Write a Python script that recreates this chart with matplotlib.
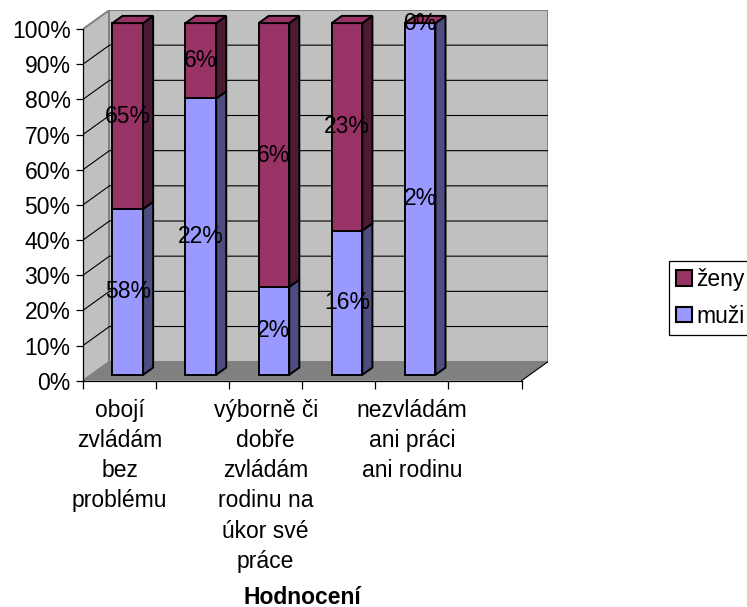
import numpy as np
import matplotlib
matplotlib.use("Agg")
import matplotlib.pyplot as plt
from matplotlib.patches import Polygon, Patch
from matplotlib import transforms

plt.rcParams['font.family'] = ['Liberation Sans', 'DejaVu Sans']

# ---- data ----
categories = ["obojí\nzvládám\nbez\nproblému", "",
              "výborně či\ndobře\nzvládám\nrodinu na\núkor své\npráce", "",
              "nezvládám\nani práci\nani rodinu", ""]
muzi = [58, 22, 2, 16, 2, None]
zeny = [65, 6, 6, 23, 0, None]
series_names = ["muži", "ženy"]
y_ticks = [0, 10, 20, 30, 40, 50, 60, 70, 80, 90, 100]
x_title = "Hodnocení"

# ---- style ----
fs = 16.5
front_cols = {"muži": "#9999FF", "ženy": "#993366"}
side_cols = {"muži": "#4D4D80", "ženy": "#4D1A33"}
top_cols = {"muži": "#9999FF", "ženy": "#993366"}
wall_col = "#C0C0C0"
wall_edge = "#808080"
floor_col = "#808080"

n = len(categories)
DX, DY = 0.362, 0.0541      # depth of the 3-D box (data units)
d0, bd = 0.31, 0.38         # bar front depth and bar depth (fraction of box depth)
bw = 0.42                   # bar width

W, H = 747, 607
fig = plt.figure(figsize=(W / 100, H / 100), dpi=100)
ax = fig.add_axes([83 / W, (H - 380.7) / H, 465 / W, 370.7 / H])
ax.set_xlim(0, n + DX)
ax.set_ylim(0, 1 + DY)
ax.patch.set_visible(False)

# walls
ax.fill([0, 0, DX, DX], [0, 1, 1 + DY, DY], facecolor=wall_col,
        edgecolor=wall_edge, lw=1.4, zorder=0.5)
ax.fill([DX, DX, n + DX, n + DX], [DY, 1 + DY, 1 + DY, DY], facecolor=wall_col,
        edgecolor=wall_edge, lw=1.4, zorder=0.5)
# gridlines
for v in y_ticks[1:-1]:
    f = v / 100
    ax.plot([0, DX, n + DX], [f, f + DY, f + DY], color="black", lw=0.8, zorder=0.6)
# floor
ax.fill([0, n, n + DX, DX], [0, 0, DY, DY], facecolor=floor_col,
        edgecolor="none", zorder=0.7)
ax.plot([n, n + DX], [0, DY], color="black", lw=0.8, zorder=0.8)

# bars
m = np.array([np.nan if v is None else v for v in muzi], dtype=float)
z = np.array([np.nan if v is None else v for v in zeny], dtype=float)
tot = m + z
valid = ~np.isnan(tot) & (tot > 0)
idx = np.arange(n)[valid]
mf = m[valid] / tot[valid]
zf = z[valid] / tot[valid]
centers = idx + 0.5 + d0 * DX
base = np.full(len(idx), d0 * DY)

stack = [("muži", mf, m[valid]), ("ženy", zf, z[valid])]
bottom = base.copy()
for name, frac, raw in stack:
    ax.bar(centers, frac, width=bw, bottom=bottom, color=front_cols[name],
           edgecolor="black", linewidth=1.4, zorder=3)
    for c, b, h, r in zip(centers, bottom, frac, raw):
        xr = c + bw / 2
        if h > 0:
            ax.add_patch(Polygon([(xr, b), (xr + bd * DX, b + bd * DY),
                                  (xr + bd * DX, b + h + bd * DY), (xr, b + h)],
                                 closed=True, facecolor=side_cols[name],
                                 edgecolor="black", lw=1.4, zorder=3))
        ax.text(c, b + h / 2, f"{int(r)}%", ha="center", va="center",
                fontsize=fs, color="black", zorder=10)
    bottom = bottom + frac
# top faces (colour of the last series)
top_name = stack[-1][0]
for c, t in zip(centers, bottom):
    xl, xr = c - bw / 2, c + bw / 2
    ax.add_patch(Polygon([(xl, t), (xr, t), (xr + bd * DX, t + bd * DY),
                          (xl + bd * DX, t + bd * DY)], closed=True,
                         facecolor=top_cols[top_name], edgecolor="black",
                         lw=1.4, zorder=3))

# axes
for s in ["top", "right"]:
    ax.spines[s].set_visible(False)
ax.spines["left"].set_bounds(0, 1)
ax.spines["bottom"].set_bounds(0, n)
for s in ["left", "bottom"]:
    ax.spines[s].set_linewidth(0.9)
    ax.spines[s].set_zorder(2.5)

ax.set_yticks([v / 100 for v in y_ticks])
ax.set_yticklabels([f"{v}%" for v in y_ticks])
ax.tick_params(axis="y", direction="out", length=5, width=0.9, pad=4, labelsize=fs)

ax.set_xticks(np.arange(n + 1))
ax.set_xticklabels([])
ax.tick_params(axis="x", which="major", direction="out", length=6, width=0.9)
ax.set_xticks(np.arange(n) + 0.5, minor=True)
ax.set_xticklabels(categories, minor=True, fontsize=fs, linespacing=1.4)
ax.tick_params(axis="x", which="minor", length=0, pad=13)

tr = transforms.blended_transform_factory(ax.transData, fig.transFigure)
ax.text(n / 2, 1 - 597 / H, x_title, transform=tr, ha="center", va="center",
        fontsize=fs, fontweight="bold")

# legend
handles = [Patch(facecolor=front_cols[nm], edgecolor="black", linewidth=1.5)
           for nm in series_names[::-1]]
leg = fig.legend(handles, series_names[::-1], loc="upper left",
                 bbox_to_anchor=(669.3 / W, 1 - 261 / H), borderaxespad=0,
                 fontsize=fs, frameon=True, fancybox=False, framealpha=1,
                 edgecolor="black", borderpad=0.3, labelspacing=0.6,
                 handlelength=0.68, handleheight=0.68, handletextpad=0.2)
leg.get_frame().set_linewidth(0.9)

fig.savefig("out.png", dpi=100)
